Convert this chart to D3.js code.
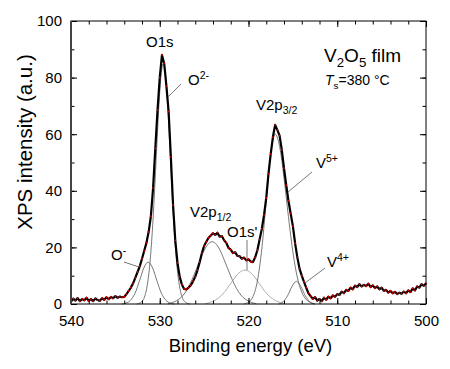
<!DOCTYPE html>
<html><head><meta charset="utf-8">
<script src="https://cdn.jsdelivr.net/npm/d3@7"></script>
<style>body{margin:0;background:#fff}svg{display:block}text{font-family:Arial,"Liberation Sans",sans-serif}</style>
</head><body>
<script>
// measured spectrum [binding energy eV, intensity a.u.]
const spectrum = [[540,0.8],[539.75,1.9],[539.5,1.2],[539.25,2.1],[539,1.0],[538.75,1.8],[538.5,1.3],[538.25,2.2],[538,1.1],[537.75,1.7],[537.5,1.0],[537.25,2.0],[537,1.4],[536.75,1.1],[536.5,2.1],[536.25,1.5],[536,2.4],[535.75,1.7],[535.5,2.5],[535.25,2.0],[535,2.8],[534.75,2.2],[534.5,2.6],[534.25,2.4],
[534,2.5],[533.75,3.5],[533.5,4.6],[533.25,5.8],[533,7.3],[532.75,9.3],[532.5,11.3],[532.25,13.4],[532,16],[531.75,18.8],[531.5,21.6],[531.25,25.5],[531,31],[530.75,41],[530.5,55],[530.25,68.5],[530,80],[529.75,88],[529.5,85],[529.25,77],[529,68],[528.75,52],[528.5,35],[528.25,22.5],[528,14.5],[527.75,9.6],[527.5,6.8],[527.25,5.3],[527,5.2],
[526.75,5.8],[526.5,6.6],[526.25,8.0],[526,9.6],[525.75,12.0],[525.5,14.8],[525.25,18.0],[525,20.6],[524.75,22.0],[524.5,23.4],[524.25,24.2],[524,25.0],[523.75,24.4],[523.5,25.2],[523.25,23.8],[523,24.0],[522.75,22.5],[522.5,21.6],[522.25,19.8],[522,19.2],[521.75,18.0],[521.5,18.3],[521.25,17.0],[521,16.9],[520.75,16.0],[520.5,16.4],[520.25,15.4],[520,15.8],[519.75,15.0],[519.5,14.8],[519.25,16.5],[519,19.0],[518.75,22.8],[518.5,26.5],[518.25,31.5],[518,37.5],[517.75,46],[517.5,53],[517.25,59],[517,63.3],[516.75,61.5],[516.5,59.5],[516.25,54.5],[516,48],[515.75,42],[515.5,36.5],[515.25,32],[515,27.5],[514.75,21.5],[514.5,16.5],[514.25,12.5],[514,10.0],[513.75,7.8],[513.5,5.8],[513.25,3.8],[513,2.8],[512.75,1.8],[512.5,2.4],[512.25,1.2],[512,1.8],[511.75,1.0],[511.5,2.2],[511.25,1.5],[511,2.6],[510.75,2.0],[510.5,3.0],[510.25,2.5],[510,3.5],[509.75,3.2],[509.5,4.4],[509.25,3.8],[509,5.0],[508.75,4.6],[508.5,5.8],[508.25,5.2],[508,6.5],[507.75,6.0],[507.5,7.0],[507.25,6.2],[507,6.8],[506.75,6.3],[506.5,7.2],[506.25,6.0],[506,6.6],[505.75,5.6],[505.5,6.2],[505.25,5.2],[505,5.8],[504.75,4.6],[504.5,5.0],[504.25,4.0],[504,4.6],[503.75,3.8],[503.5,4.3],[503.25,3.5],[503,4.0],[502.75,3.6],[502.5,4.4],[502.25,3.8],[502,4.8],[501.75,4.2],[501.5,5.5],[501.25,4.8],[501,6.2],[500.75,5.8],[500.5,7.0],[500.25,6.4],[500,7.3]];

// fitted components
const compOminus = [[534.3,0],[533.8,0.3],[533.3,1.3],[532.8,3.7],[532.3,8.0],[531.8,12.7],[531.3,14.8],[530.8,12.7],[530.3,8.0],[529.8,3.7],[529.3,1.3],[528.8,0.3],[528.3,0]];
const compO2minus = [[532.6,0],[532.1,0.6],[531.6,3.7],[531.35,7.8],[531.1,14.7],[530.85,25.1],[530.6,38.9],[530.35,54.8],[530.1,70.0],[529.85,80.9],[529.6,85],[529.35,80.9],[529.1,70.0],[528.85,54.8],[528.6,38.9],[528.35,25.1],[528.1,14.7],[527.85,7.8],[527.6,3.7],[527.1,0.6],[526.6,0]];
const compV2p12 = [[529.1,0],[528.6,0.5],[528.1,1.2],[527.6,2.3],[527.1,4.2],[526.6,7.0],[526.1,10.6],[525.6,14.5],[525.1,18.3],[524.6,21.0],[524.1,22],[523.6,21.0],[523.1,18.3],[522.6,14.5],[522.1,10.6],[521.6,7.0],[521.1,4.2],[520.6,2.3],[520.1,1.2],[519.6,0.5],[519.1,0]];
const compO1sPrime = [[524.9,0],[524.4,0.5],[523.9,1.1],[523.4,2.1],[522.9,3.5],[522.4,5.5],[521.9,7.7],[521.4,9.9],[520.9,11.4],[520.4,12],[519.9,11.4],[519.4,9.9],[518.9,7.7],[518.4,5.5],[517.9,3.5],[517.4,2.1],[516.9,1.1],[516.4,0.5],[515.9,0]];
const compV5plus = [[520.5,0],[520,0.7],[519.5,2.6],[519,8.1],[518.5,19.5],[518,36.4],[517.5,52.9],[517,60],[516.5,55.7],[516,44.6],[515.5,30.8],[515,18.4],[514.5,9.4],[514,4.2],[513.5,1.6],[513,0.5],[512.5,0]];
const compV4plus = [[516.6,0],[516.1,0.8],[515.6,2.9],[515.1,6.2],[514.6,8],[514.1,6.2],[513.6,2.9],[513.1,0.8],[512.6,0]];

const xTickLabels = [540,530,520,510,500];
const yTickLabels = [0,20,40,60,80,100];

const W=450,H=369, L=71,R=426,T=21,B=304;
const svg=d3.select("body").append("svg").attr("width",W).attr("height",H);
const x=d3.scaleLinear().domain([540,500]).range([L,R]);
const y=d3.scaleLinear().domain([0,100]).range([B,T]);

const g=svg.append("g");
const line=d3.line().x(d=>x(d[0])).y(d=>y(d[1]));
const cline=d3.line().x(d=>x(d[0])).y(d=>y(d[1])).curve(d3.curveMonotoneX);

const comps=[[compOminus,"#555"],[compO2minus,"#555"],[compV2p12,"#555"],[compO1sPrime,"#9a9a9a"],[compV5plus,"#555"],[compV4plus,"#555"]];
comps.forEach(([d,c])=>g.append("path").datum(d).attr("d",cline).attr("fill","none").attr("stroke",c).attr("stroke-width",0.8));

g.append("path").datum(spectrum).attr("d",line).attr("fill","none").attr("stroke","#000").attr("stroke-width",2.2).attr("stroke-linejoin","round");
g.selectAll("circle.pt").data(spectrum).enter().append("circle").attr("class","pt")
 .attr("cx",d=>x(d[0])).attr("cy",d=>y(d[1])).attr("r",0.9).attr("fill","#e00000");

// axes
function styleAxis(sel){sel.select(".domain").remove();sel.selectAll("line").attr("stroke","#000");sel.selectAll("text").attr("font-size",15).attr("fill","#000").attr("font-family","Arial, Liberation Sans, sans-serif");}
const xMinor=x.ticks(20), yMinor=y.ticks(10);
svg.append("g").attr("transform",`translate(0,${B})`).call(d3.axisBottom(x).tickValues(xTickLabels).tickSize(-6).tickPadding(11).tickFormat(d3.format("d"))).call(styleAxis);
svg.append("g").attr("transform",`translate(0,${B})`).call(d3.axisBottom(x).tickValues(xMinor).tickSize(-3.5).tickFormat("")).call(styleAxis);
svg.append("g").attr("transform",`translate(0,${T})`).call(d3.axisTop(x).tickValues(xTickLabels).tickSize(-6).tickFormat("")).call(styleAxis);
svg.append("g").attr("transform",`translate(0,${T})`).call(d3.axisTop(x).tickValues(xMinor).tickSize(-3.5).tickFormat("")).call(styleAxis);
svg.append("g").attr("transform",`translate(${L},0)`).call(d3.axisLeft(y).tickValues(yTickLabels).tickSize(-6).tickPadding(9).tickFormat(d3.format("d"))).call(styleAxis);
svg.append("g").attr("transform",`translate(${L},0)`).call(d3.axisLeft(y).tickValues(yMinor).tickSize(-3.5).tickFormat("")).call(styleAxis);
svg.append("g").attr("transform",`translate(${R},0)`).call(d3.axisRight(y).tickValues(yTickLabels).tickSize(-6).tickFormat("")).call(styleAxis);
svg.append("g").attr("transform",`translate(${R},0)`).call(d3.axisRight(y).tickValues(yMinor).tickSize(-3.5).tickFormat("")).call(styleAxis);

svg.append("rect").attr("x",L).attr("y",T).attr("width",R-L).attr("height",B-T).attr("fill","none").attr("stroke","#000").attr("stroke-width",1);
svg.append("line").attr("x1",L).attr("x2",L).attr("y1",T).attr("y2",B).attr("stroke","#444").attr("stroke-width",2);

// titles
svg.append("text").attr("x",(L+R)/2+2).attr("y",352).attr("text-anchor","middle").attr("font-size",18.5).text("Binding energy (eV)");
svg.append("text").attr("transform",`translate(32,142) rotate(-90)`).attr("text-anchor","middle").attr("font-size",20.5).text("XPS intensity (a.u.)");

// annotations
function label(px,py,parts,size){const t=svg.append("text").attr("x",px).attr("y",py).attr("font-size",size);
 parts.forEach(p=>{const s=t.append("tspan").text(p.t);
  if(p.sup){s.attr("font-size",size*0.7).attr("dy",-size*0.38);} else if(p.sub){s.attr("font-size",size*0.7).attr("dy",size*0.25);} else if(p.back){s.attr("dy",p.back);}
  if(p.it)s.attr("font-style","italic");});return t;}
label(146,47,[{t:"O1s"}],15);
label(188,85,[{t:"O"},{t:"2-",sup:1}],15);
label(324,62,[{t:"V"},{t:"2",sub:1},{t:"O",back:-19*0.25},{t:"5",sub:1},{t:" film",back:-19*0.25}],19);
label(325,85,[{t:"T",it:1},{t:"s",sub:1},{t:"=380 °C",back:-14*0.25}],14);
label(256,110,[{t:"V2p"},{t:"3/2",sub:1}],15);
label(316,168,[{t:"V"},{t:"5+",sup:1}],15);
label(190,217,[{t:"V2p"},{t:"1/2",sub:1}],15);
label(227,237,[{t:"O1s'"}],15);
label(327,267,[{t:"V"},{t:"4+",sup:1}],15);
label(111,260,[{t:"O"},{t:"-",sup:1}],15);

const leaders=[[181,84,168,97],[312,172,288,192],[247,240,247,270],[325,268,305,283],[124,262,139,267]];
leaders.forEach(l=>svg.append("line").attr("x1",l[0]).attr("y1",l[1]).attr("x2",l[2]).attr("y2",l[3]).attr("stroke","#555").attr("stroke-width",0.8));
</script>
</body></html>
